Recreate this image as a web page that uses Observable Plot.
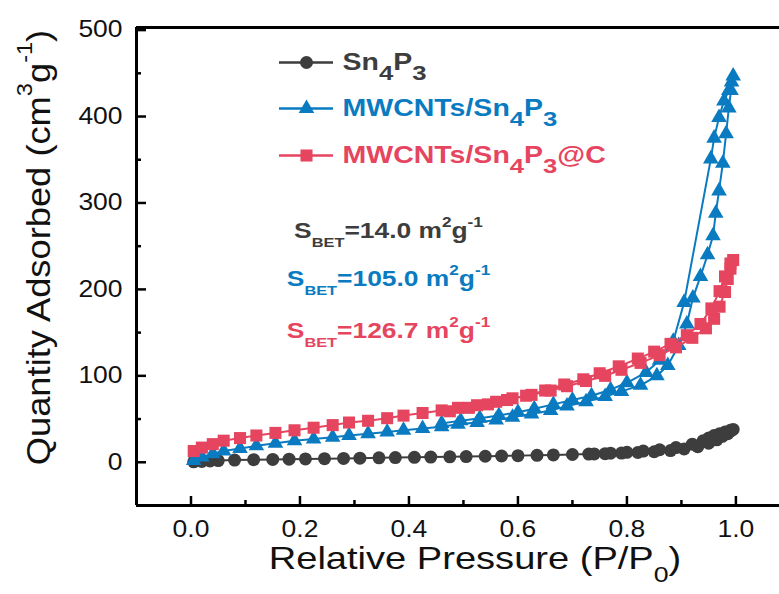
<!DOCTYPE html>
<html><head><meta charset="utf-8">
<script src="https://cdn.jsdelivr.net/npm/d3@7"></script>
<script src="https://cdn.jsdelivr.net/npm/@observablehq/plot@0.6"></script>
<style>
html,body{margin:0;padding:0;background:#fff;}
#chart{width:779px;height:594px;overflow:hidden;}
svg{display:block;}
</style></head><body><div id="chart"></div>
<script>
// ---------- DATA ----------
const sn4p3AdsX = [0.005,0.02,0.035,0.05,0.08,0.115,0.15,0.18,0.21,0.245,0.28,0.31,0.345,0.375,0.41,0.44,0.475,0.505,0.54,0.57,0.6,0.635,0.665,0.7,0.73,0.76,0.79,0.82,0.85,0.88,0.905,0.93,0.95,0.965,0.975,0.985,0.99,0.995];
const sn4p3AdsY = [0.5,1,1.5,2,2.5,3,3.3,3.6,3.9,4.2,4.5,4.8,5.1,5.4,5.7,6,6.3,6.6,7,7.3,7.7,8.1,8.5,9,9.5,10,10.6,11.3,12.2,13.5,15.5,18,22,26,30,33,36,38];
const sn4p3DesX = [0.99,0.98,0.97,0.96,0.95,0.94,0.92,0.89,0.86,0.83,0.8,0.77,0.74];
const sn4p3DesY = [37,35,33,31,28,25,21,17,14.5,13,11.5,10.5,9.7];

const mwAdsX = [0.005,0.02,0.04,0.06,0.09,0.12,0.155,0.19,0.225,0.26,0.29,0.325,0.36,0.39,0.425,0.46,0.49,0.525,0.56,0.59,0.625,0.66,0.69,0.725,0.76,0.79,0.825,0.855,0.875,0.895,0.91,0.921,0.935,0.948,0.958,0.963,0.969,0.976,0.982,0.987,0.991,0.995];
const mwAdsY = [2,6,10,13,16,19,22,25,27,29,31,33,35,37,39,41,44,46,49,52,56,60,65,70,76,82,89,100,112,135,160,190,215,240,262,288,314,346,380,410,430,447];
const mwDesX = [0.992,0.987,0.978,0.969,0.96,0.954,0.905,0.885,0.86,0.835,0.8,0.77,0.735,0.7,0.665,0.63,0.6,0.565,0.53,0.495,0.46];
const mwDesY = [440,430,418,399,375,351,185,140,118,104,92,84,77,72,67,62,58,54,51,48,45];

const mwcAdsX = [0.005,0.02,0.04,0.06,0.09,0.12,0.155,0.19,0.225,0.26,0.29,0.325,0.36,0.39,0.425,0.46,0.49,0.525,0.56,0.59,0.625,0.66,0.69,0.725,0.76,0.79,0.825,0.86,0.89,0.92,0.945,0.96,0.97,0.98,0.985,0.99,0.995];
const mwcAdsY = [13,17,21,25,28,31,34,37,40,43,46,48,51,54,57,60,63,66,70,74,78,83,88,94,100,107,115,124,133,144,155,166,180,197,212,224,234];
const mwcDesX = [0.99,0.98,0.97,0.955,0.935,0.91,0.88,0.85,0.82,0.785,0.75,0.72,0.685,0.65,0.615,0.58,0.545,0.51,0.475];
const mwcDesY = [230,215,198,178,160,147,137,128,120,111,103,96,90,83,77,72,67,63,59];

const seriesNames = ["Sn_{4}P_{3}", "MWCNTs/Sn_{4}P_{3}", "MWCNTs/Sn_{4}P_{3}@C"];
const betLabels = ["S_{BET}=14.0 m^{2}g^{-1}", "S_{BET}=105.0 m^{2}g^{-1}", "S_{BET}=126.7 m^{2}g^{-1}"];
const xMajorTicks = [0, 0.2, 0.4, 0.6, 0.8, 1.0];
const xMinorTicks = [0.1, 0.3, 0.5, 0.7, 0.9];
const yMajorTicks = [0, 100, 200, 300, 400, 500];
const yMinorTicks = [50, 150, 250, 350, 450];
const xTitle = "Relative Pressure (P/P_{0})";
const yTitle = "Quantity Adsorbed (cm^{3}g^{-1})";

// ---------- STYLE / LAYOUT ----------
const colors = ["#3d3d3d", "#0a7bc0", "#e6455f"];
const symbols = ["circle", "triangle", "square"];
const radii = [6.5, 5.8, 6.8];
const W = 779, H = 594, ML = 136, MR = 0, MT = 27, MB = 89;
const xDomain = [-0.1, 1.08], yDomain = [-50, 503];
const kx = (W - ML - MR) / (xDomain[1] - xDomain[0]);
const ky = (H - MT - MB) / (yDomain[1] - yDomain[0]);
const px2x = p => xDomain[0] + (p - ML) / kx;
const py2y = p => yDomain[1] - (p - MT) / ky;

const seriesData = [
  [sn4p3AdsX, sn4p3AdsY, sn4p3DesX, sn4p3DesY],
  [mwAdsX, mwAdsY, mwDesX, mwDesY],
  [mwcAdsX, mwcAdsY, mwcDesX, mwcDesY]
].map(([ax, ay, dx, dy]) =>
  ax.map((x, i) => ({x, y: ay[i]})).concat(dx.map((x, i) => ({x, y: dy[i]}))));

const marks = [];
// frame lines
marks.push(Plot.ruleY([yDomain[0]], {stroke: "#000", strokeWidth: 3}));
marks.push(Plot.ruleY([yDomain[1]], {stroke: "#000", strokeWidth: 3}));
marks.push(Plot.ruleX([xDomain[0]], {stroke: "#000", strokeWidth: 3}));
// inward ticks
marks.push(Plot.ruleX(xMajorTicks, {x: d => d, y1: () => yDomain[0], y2: () => yDomain[0] + 9 / ky, stroke: "#000", strokeWidth: 2.5}));
marks.push(Plot.ruleX(xMinorTicks, {x: d => d, y1: () => yDomain[0], y2: () => yDomain[0] + 5 / ky, stroke: "#000", strokeWidth: 2.5}));
marks.push(Plot.ruleY(yMajorTicks, {y: d => d, x1: () => xDomain[0], x2: () => xDomain[0] + 10 / kx, stroke: "#000", strokeWidth: 2.5}));
marks.push(Plot.ruleY(yMinorTicks, {y: d => d, x1: () => xDomain[0], x2: () => xDomain[0] + 5 / kx, stroke: "#000", strokeWidth: 2.5}));
// tick labels
marks.push(Plot.text(xMajorTicks, {x: d => d, y: () => yDomain[0], text: d => d.toFixed(1), lineAnchor: "middle", dy: 24, fontSize: 23, fill: "#111", ariaDescription: "xticklabel"}));
marks.push(Plot.text(yMajorTicks, {x: () => xDomain[0], y: d => d, text: d => String(d), textAnchor: "end", lineAnchor: "middle", dx: -14, fontSize: 23, fill: "#111", ariaDescription: "yticklabel"}));
// axis titles
marks.push(Plot.text([xTitle], {frameAnchor: "bottom", text: d => d, textAnchor: "middle", lineAnchor: "middle", dx: 17, dy: 53, fontSize: 32, fill: "#111", ariaDescription: "xtitle"}));
marks.push(Plot.text([yTitle], {frameAnchor: "left", text: d => d, rotate: -90, textAnchor: "middle", lineAnchor: "middle", dx: -97, dy: -19, fontSize: 33, fill: "#111", ariaDescription: "ytitle"}));

// series
seriesData.forEach((pts, i) => {
  marks.push(Plot.line(pts, {x: "x", y: "y", stroke: colors[i], strokeWidth: 2}));
  marks.push(Plot.dot(pts, {x: "x", y: "y", symbol: symbols[i], r: radii[i], fill: colors[i], stroke: "none"}));
});

// legend
const legRows = [62, 108, 155];
seriesNames.forEach((name, i) => {
  const ly = py2y(legRows[i]);
  marks.push(Plot.ruleY([ly], {x1: () => px2x(279), x2: () => px2x(333), y: d => d, stroke: colors[i], strokeWidth: 2.5}));
  marks.push(Plot.dot([ly], {x: () => px2x(306), y: d => d, symbol: symbols[i], r: radii[i], fill: colors[i], stroke: "none"}));
  marks.push(Plot.text([name], {x: () => px2x(342), y: () => ly, text: d => d, textAnchor: "start", lineAnchor: "middle", dy: 0, fontSize: 23, fontWeight: "bold", fill: colors[i], ariaDescription: "legend"}));
});
// BET annotations
const betRows = [230, 278, 330];
betLabels.forEach((lab, i) => {
  marks.push(Plot.text([lab], {x: () => px2x(388), y: () => py2y(betRows[i]), text: d => d, textAnchor: "middle", lineAnchor: "middle", fontSize: 22, fontWeight: "bold", fill: colors[i], ariaDescription: "bet"}));
});

const svg = Plot.plot({
  width: W, height: H,
  marginLeft: ML, marginRight: MR, marginTop: MT, marginBottom: MB,
  x: {domain: xDomain, axis: null},
  y: {domain: yDomain, axis: null},
  style: {fontFamily: "'Liberation Sans', Arial, sans-serif", background: "#fff", overflow: "hidden"},
  marks
});
document.getElementById("chart").appendChild(svg);

// ---------- rich text (sub/superscripts) and horizontal stretch ----------
const cfg = {
  xticklabel: {S: 1.15},
  yticklabel: {S: 1.15},
  xtitle: {S: 1.19, subSize: 0.7, subShift: 0.42},
  ytitle: {S: 1.1, supSize: 0.65, supShift: 0.55},
  legend: {S: 1.24, subSize: 0.9, subShift: 0.42},
  bet: {S: 1.2, subSize: 0.62, subShift: 0.45, supSize: 0.65, supShift: 0.5}
};
const NS = "http://www.w3.org/2000/svg";
function richify(t, c) {
  const s = t.textContent;
  if (!/[_^]\{/.test(s)) return;
  const fs = parseFloat(getComputedStyle(t).fontSize);
  while (t.firstChild) t.removeChild(t.firstChild);
  const re = /([_^])\{([^}]*)\}/g;
  const parts = [];
  let last = 0, m;
  while ((m = re.exec(s))) {
    if (m.index > last) parts.push({t: s.slice(last, m.index), k: ""});
    parts.push({t: m[2], k: m[1]});
    last = re.lastIndex;
  }
  if (last < s.length) parts.push({t: s.slice(last), k: ""});
  let off = 0;
  for (const p of parts) {
    const ts = document.createElementNS(NS, "tspan");
    let target = 0, size = fs;
    if (p.k === "_") { target = c.subShift * fs; size = c.subSize * fs; }
    else if (p.k === "^") { target = -c.supShift * fs; size = c.supSize * fs; }
    const d = target - off;
    if (d) ts.setAttribute("dy", d.toFixed(2));
    off = target;
    ts.setAttribute("font-size", size.toFixed(2));
    ts.textContent = p.t;
    t.appendChild(ts);
  }
}
function stretch(t, S) {
  const x = +(t.getAttribute("x") || 0), y = +(t.getAttribute("y") || 0);
  let tr = t.getAttribute("transform") || "";
  if (x || y) { tr += ` translate(${x},${y})`; t.removeAttribute("x"); t.removeAttribute("y"); }
  tr += ` scale(${S},1)`;
  t.setAttribute("transform", tr);
}
svg.querySelectorAll("g[aria-description]").forEach(g => {
  const c = cfg[g.getAttribute("aria-description")];
  if (!c) return;
  g.querySelectorAll("text").forEach(t => { richify(t, c); stretch(t, c.S); });
});
</script>
</body></html>
